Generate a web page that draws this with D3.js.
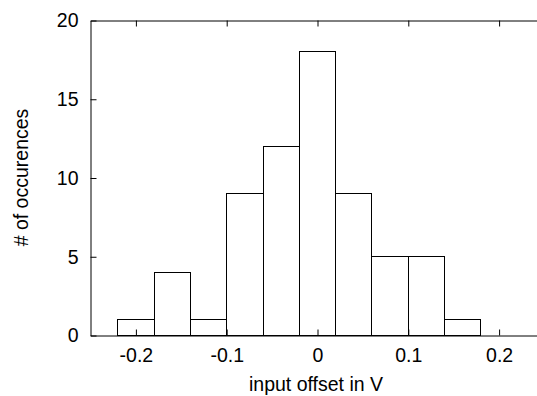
<html>
<head>
<meta charset="utf-8">
<script src="https://d3js.org/d3.v7.min.js"></script>
<style>
  body { margin: 0; background: #fff; }
  text { font-family: "Liberation Sans", Arial, sans-serif; fill: #000; }
</style>
</head>
<body>
<script>
// histogram data
const binEdges = [-0.22, -0.18, -0.14, -0.10, -0.06, -0.02, 0.02, 0.06, 0.10, 0.14, 0.18];
const counts = [1, 4, 1, 9, 12, 18, 9, 5, 5, 1];
const xTicks = [-0.2, -0.1, 0, 0.1, 0.2];
const yTicks = [0, 5, 10, 15, 20];

const w = 537, h = 396;
const padLeft = 90, padTop = 20, padBottom = 335;
const fs = "19.5px";

const svg = d3.select("body").append("svg")
    .attr("width", w)
    .attr("height", h);

const x = d3.scaleLinear().domain([-0.25, 0.25]).range([padLeft, 544]);
const y = d3.scaleLinear().domain([0, 20]).range([padBottom, padTop]);

const bins = counts.map((c, i) => ({ x0: binEdges[i], x1: binEdges[i + 1], n: c }));

svg.selectAll("rect.bar")
    .data(bins)
    .enter()
    .append("rect")
    .attr("class", "bar")
    .attr("x", d => Math.round(x(d.x0)) + 0.5)
    .attr("y", d => Math.round(y(d.n)) + 0.5)
    .attr("width", d => Math.round(x(d.x1)) - Math.round(x(d.x0)))
    .attr("height", d => Math.round(y(0)) - Math.round(y(d.n)))
    .attr("fill", "#fff")
    .attr("stroke", "#000")
    .attr("stroke-width", 1);

// plain hyphen for the minus sign, like the original
const fmt = d => d === 0 ? "0" : d.toFixed(1);

// bottom axis, ticks pointing inward
const xAxis = svg.append("g")
    .attr("transform", `translate(0.5, ${padBottom + 0.5})`)
    .call(d3.axisBottom(x).tickValues(xTicks).tickSizeInner(-6).tickSizeOuter(0).tickPadding(13).tickFormat(fmt));
xAxis.selectAll("text").style("font-size", fs);

// mirrored ticks on top
svg.append("g")
    .attr("transform", `translate(0.5, ${padTop + 0.5})`)
    .call(d3.axisTop(x).tickValues(xTicks).tickSizeInner(-6).tickSizeOuter(0).tickFormat(""));

const yAxis = svg.append("g")
    .attr("transform", `translate(${padLeft + 0.5}, 0.5)`)
    .call(d3.axisLeft(y).tickValues(yTicks).tickSizeInner(-6).tickSizeOuter(0).tickPadding(12));
yAxis.selectAll("text").style("font-size", fs);

svg.selectAll(".domain").attr("stroke", "#000");
svg.selectAll(".tick line").attr("stroke", "#000");

svg.append("text")
    .attr("x", 316)
    .attr("y", 391)
    .attr("text-anchor", "middle")
    .style("font-size", fs)
    .text("input offset in V");

svg.append("text")
    .attr("transform", `translate(28, ${(padTop + padBottom) / 2}) rotate(-90)`)
    .attr("text-anchor", "middle")
    .style("font-size", fs)
    .text("# of occurences");
</script>
</body>
</html>
